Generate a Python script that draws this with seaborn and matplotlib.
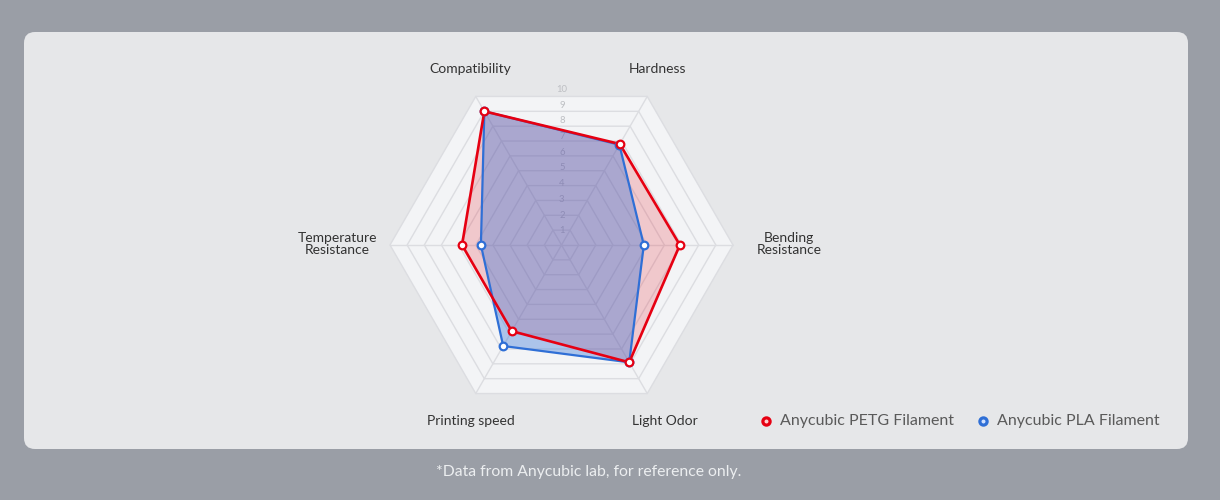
import numpy as np
import pandas as pd
import matplotlib
matplotlib.use("Agg")
import matplotlib.pyplot as plt
from matplotlib.patches import FancyBboxPatch, Polygon
import seaborn as sns

# ---------------- data ----------------
categories = ["Compatibility", "Hardness", "Bending\nResistance", "Light Odor",
              "Printing speed", "Temperature\nResistance"]
angles_deg = [120, 60, 0, -60, -120, 180]
petg_values = [9.0, 6.8, 6.9, 7.9, 5.8, 5.8]
pla_values = [9.0, 6.75, 4.8, 7.9, 6.8, 4.7]
series_names = ["Anycubic PETG Filament", "Anycubic PLA Filament"]
scale_ticks = list(range(1, 11))
footnote = "*Data from Anycubic lab, for reference only."

# ---------------- style ----------------
sns.set_theme(style="white")
plt.rcParams["font.family"] = ["Lato", "DejaVu Sans"]

RED = "#e60012"
BLUE = "#2f6fd6"
W, H = 1220, 500
fig = plt.figure(figsize=(W / 100, H / 100), dpi=100)
fig.patch.set_facecolor("#9a9ea6")

# background axes in pixel coordinates
bg = fig.add_axes([0, 0, 1, 1])
bg.set_xlim(0, W)
bg.set_ylim(H, 0)
bg.axis("off")
bg.add_patch(FancyBboxPatch((24, 32), 1164, 417,
                            boxstyle="round,pad=0,rounding_size=11",
                            facecolor="#e6e7e9", edgecolor="none"))
bg.text(588.5, 472, footnote, ha="center", va="center", color="#eceef0",
        fontsize=11.3, family=["Lato", "DejaVu Sans"])

# category labels (pixel positions)
label_pos = [(470, 69), (657, 69), (789, 244), (665, 421), (471, 421), (337, 244)]
for lab, (lx, ly) in zip(categories, label_pos):
    bg.text(lx, ly, lab, ha="center", va="center", color="#333333",
            fontsize=10, linespacing=1.05)

# legend
leg_items = [(766, 421, RED, series_names[0]), (983, 421, BLUE, series_names[1])]
for mx, my, col, name in leg_items:
    bg.plot([mx], [my], marker="o", markersize=5.2, markerfacecolor="#ffd0d0" if col == RED else "#cfe0ff",
            markeredgecolor=col, markeredgewidth=2.3, linestyle="none")
    bg.text(mx + 14, my, name, ha="left", va="center", color="#5a5a5a", fontsize=11.5)

# radar axes in value units
cx, cy, unit = 561.5, 245.0, 17.15
half = 12
wpx = 2 * half * unit
ax = fig.add_axes([(cx - half * unit) / W, (H - cy - half * unit) / H, wpx / W, wpx / H])
ax.patch.set_alpha(0)

theta = np.deg2rad(angles_deg)
ux, uy = np.cos(theta), np.sin(theta)

# grid
outer = np.column_stack([10 * ux, 10 * uy])
ax.add_patch(Polygon(outer, closed=True, facecolor="#f3f4f6", edgecolor="#dcdde1",
                     linewidth=1.0, zorder=1))
for r in scale_ticks[:-1]:
    ax.add_patch(Polygon(np.column_stack([r * ux, r * uy]), closed=True,
                         facecolor="none", edgecolor="#dcdde1", linewidth=1.0, zorder=1))
for x1, y1 in zip(ux, uy):
    ax.plot([0, 10 * x1], [0, 10 * y1], color="#dcdde1", linewidth=1.0, zorder=1)

# scale labels along the vertical (beneath the translucent fills)
for t in scale_ticks:
    ax.text(0.02, t * 0.918 - 0.1, str(t), ha="center", va="center", color="#bdbfc3",
            fontsize=6.8, zorder=1.5)

# series
def to_df(vals, name):
    v = np.array(vals)
    x = np.append(v * ux, v[0] * ux[0])
    y = np.append(v * uy, v[0] * uy[0])
    return pd.DataFrame({"x": x, "y": y, "series": name})

df_petg = to_df(petg_values, series_names[0])
df_pla = to_df(pla_values, series_names[1])

ax.fill(df_petg["x"], df_petg["y"], color=RED, alpha=0.18, linewidth=0, zorder=2)
ax.fill(df_pla["x"], df_pla["y"], color=BLUE, alpha=0.36, linewidth=0, zorder=3)

sns.lineplot(data=df_pla, x="x", y="y", sort=False, estimator=None, color=BLUE,
             linewidth=1.6, ax=ax, zorder=4, legend=False)
sns.lineplot(data=df_petg, x="x", y="y", sort=False, estimator=None, color=RED,
             linewidth=1.9, ax=ax, zorder=5, legend=False)
ax.plot(df_pla["x"][:-1], df_pla["y"][:-1], marker="o", linestyle="none", markersize=5.5,
        markerfacecolor="white", markeredgecolor=BLUE, markeredgewidth=1.6, zorder=6)
ax.plot(df_petg["x"][:-1], df_petg["y"][:-1], marker="o", linestyle="none", markersize=5.5,
        markerfacecolor="white", markeredgecolor=RED, markeredgewidth=1.6, zorder=7)
ax.set_xlim(-half, half)
ax.set_ylim(-half, half)
ax.axis("off")

fig.savefig("out.png", dpi=100, facecolor=fig.get_facecolor())
